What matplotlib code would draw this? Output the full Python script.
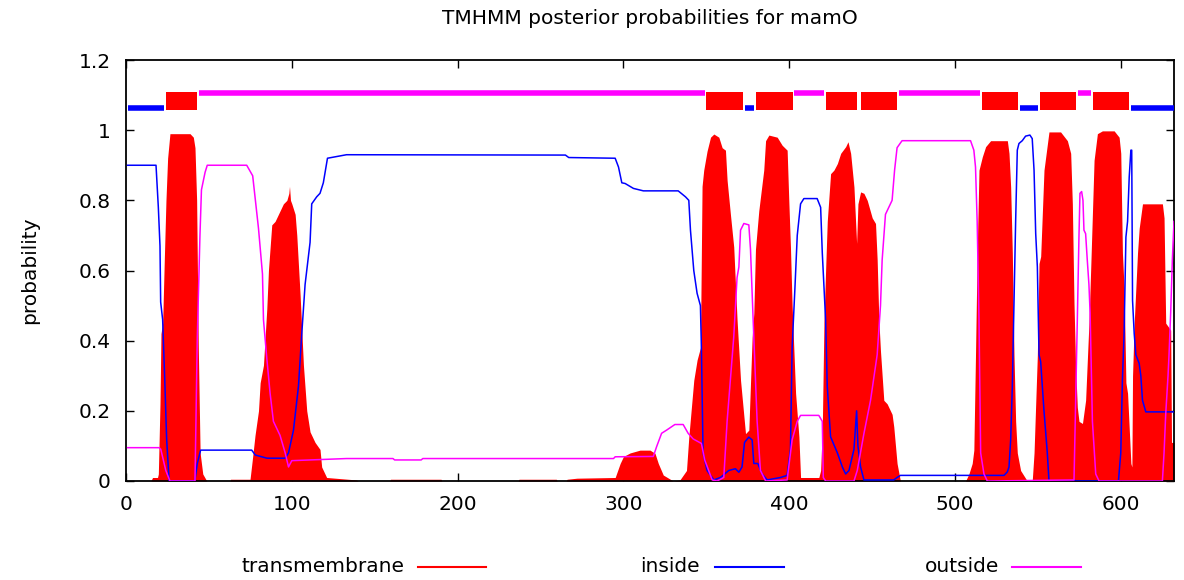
import matplotlib
matplotlib.use("Agg")
import matplotlib.pyplot as plt
from matplotlib.lines import Line2D

# ---- data -----------------------------------------------------------------
seq_length = 632
title = "TMHMM posterior probabilities for mamO"

# posterior probability of transmembrane state (position, probability)
pos_tm = [15, 16, 19, 19.5, 20.5, 21.1, 22.1, 23.1, 24.1, 25.1, 26.5, 38.6, 40.6,
          41.6, 42.6, 43.6, 44.7, 46.3, 48.7,
          62.8, 63, 74.8, 76.4, 77.8, 79.9, 80.9, 82.9, 84.9, 85.9, 87.9, 89.9, 91.9,
          94.9, 97, 98.2, 98.6, 99.2, 100, 102, 103, 105, 107, 109, 111, 114, 117,
          118, 121, 139, 140,
          159, 159.5, 190, 190.5, 236.5, 237, 259.5, 260, 265.5, 266, 272, 295,
          298, 300, 304, 310, 316, 319, 321, 324, 330, 334, 338, 339.4, 342.4,
          344.4, 346.4, 347.4, 348.4, 350.4, 352.5, 354.5, 357.5, 359.5, 361.5,
          362.5, 364.5, 366.5, 368.5, 370.6, 373.6, 375.6, 377.6, 378.6, 379.6,
          381.6, 384.6, 385.7, 387.7, 392.7, 395.7, 398.7, 399.7, 400.7, 401.7,
          403.8, 405.8, 406.8, 417.8, 418.9, 419.9, 420.9, 421.9, 422.9, 424.9,
          426.9, 429, 431, 434, 435.4, 437, 439, 440.6, 441.4, 443, 445, 447, 450,
          452, 453, 454, 455, 457, 459, 462, 463, 465, 467,
          506.3, 508.3, 510.3, 511.3, 512.3, 513.3, 514.4, 516.4, 518.4, 521.4,
          531.5, 532.5, 533.5, 534.5, 535.5, 536.5, 537.5, 539.5, 543.5, 546.5,
          547.6, 548.6, 549.6, 550.6, 551.6, 553.6, 556.6, 563.6, 567.7, 569.7,
          570.7, 571.7, 572.7, 573.7, 574.7, 576.8, 578.7, 580.7, 581.8, 583.8,
          585.8, 588.8, 595.9, 598.9, 599.9, 600.9, 601.9, 603, 604, 605, 606,
          606.6, 607, 608, 609, 610, 611, 613, 625, 626, 627, 630, 630.5, 632]
prob_tm = [0.0, 0.01, 0.01, 0.02, 0.22, 0.42, 0.45, 0.63, 0.80, 0.92, 0.99, 0.99, 0.98,
           0.95, 0.80, 0.38, 0.08, 0.02, 0.0,
           0.0, 0.005, 0.005, 0.07, 0.13, 0.20, 0.28, 0.33, 0.49, 0.60, 0.73, 0.74, 0.76,
           0.79, 0.80, 0.82, 0.84, 0.80, 0.79, 0.76, 0.70, 0.53, 0.33, 0.20, 0.14, 0.11, 0.09,
           0.04, 0.01, 0.003, 0.0,
           0.0, 0.005, 0.005, 0.0, 0.0, 0.005, 0.005, 0.0, 0.0, 0.005, 0.008, 0.01,
           0.05, 0.07, 0.08, 0.088, 0.088, 0.079, 0.05, 0.017, 0.0, 0.003, 0.03, 0.125, 0.287,
           0.345, 0.38, 0.84, 0.886, 0.94, 0.98, 0.989, 0.98, 0.95, 0.943,
           0.857, 0.76, 0.667, 0.46, 0.287, 0.135, 0.145, 0.41, 0.478, 0.66,
           0.77, 0.886, 0.97, 0.986, 0.98, 0.957, 0.943, 0.80, 0.667, 0.50,
           0.25, 0.126, 0.01, 0.01, 0.03, 0.15, 0.45, 0.60, 0.74, 0.876,
           0.886, 0.905, 0.934, 0.953, 0.967, 0.934, 0.838, 0.677, 0.79, 0.824, 0.82, 0.80, 0.75,
           0.734, 0.63, 0.46, 0.37, 0.23, 0.22, 0.19, 0.155, 0.05, 0.0,
           0.0, 0.02, 0.05, 0.088, 0.36, 0.65, 0.886, 0.924, 0.953, 0.97,
           0.97, 0.934, 0.838, 0.65, 0.36, 0.17, 0.08, 0.03, 0.0, 0.0,
           0.08, 0.22, 0.36, 0.62, 0.64, 0.886, 0.995, 0.995, 0.97, 0.934,
           0.79, 0.506, 0.32, 0.21, 0.17, 0.164, 0.23, 0.45, 0.61, 0.914,
           0.99, 0.998, 0.998, 0.98, 0.934, 0.65, 0.55, 0.28, 0.25, 0.15, 0.05,
           0.04, 0.30, 0.45, 0.55, 0.65, 0.72, 0.79, 0.79, 0.75, 0.45, 0.43, 0.11, 0.11]

# posterior probability of the inside state
pos_in = [1, 18.1, 19.5, 20.5, 20.9, 22.1, 23.5, 24.5, 26, 41.5, 43, 45, 75.8, 78, 85,
          96, 98, 101, 104, 106, 108, 111, 112, 115, 117, 119, 121.5, 133, 265, 267,
          295, 297, 299, 301, 306, 312, 333, 337.4, 339.4, 340.4, 342.4, 344.4,
          346.4, 347, 348, 350.4, 354.5, 358.5, 363.5, 367.5, 369.6, 371.5, 373,
          375.6, 377.6, 378.6, 381, 383.6, 386.7, 394.7, 398.7, 400.7, 401.7, 403.4,
          404.8, 406.8, 408.8, 416.8, 418.9, 419.9, 421.9, 422.9, 424.9, 429, 432,
          434, 436, 439, 440.6, 441.4, 443, 445, 463, 465, 467, 529.5, 531.5, 532.5,
          533.5, 534.5, 535.5, 536.5, 537.5, 538.5, 540.5, 542.5, 545.1, 546.5,
          547.6, 548.6, 549.6, 550.6, 551.6, 553.6, 555.6, 556.6, 598.5, 599.9,
          600.9, 601.9, 603, 604, 605, 606, 606.5, 607, 608, 609, 611, 612, 613, 615,
          632]
prob_in = [0.90, 0.90, 0.78, 0.67, 0.51, 0.46, 0.27, 0.12, 0.0, 0.0, 0.05, 0.088, 0.088,
           0.074, 0.065, 0.065, 0.08, 0.145, 0.27, 0.42, 0.56, 0.68, 0.79, 0.81, 0.82,
           0.85, 0.92, 0.93, 0.929, 0.922, 0.92, 0.895, 0.85, 0.848, 0.834, 0.827, 0.827,
           0.81, 0.80, 0.715, 0.60, 0.535, 0.50, 0.38, 0.08, 0.03, 0.003, 0.01, 0.03,
           0.035, 0.025, 0.04, 0.11, 0.125, 0.117, 0.05, 0.05, 0.02, 0.003, 0.01, 0.016,
           0.09, 0.38, 0.55, 0.70, 0.79, 0.805, 0.805, 0.78, 0.65, 0.46, 0.27, 0.126,
           0.08, 0.04, 0.02, 0.03, 0.09, 0.20, 0.10, 0.04, 0.003, 0.003, 0.01, 0.016,
           0.016, 0.026, 0.04, 0.117, 0.27, 0.506, 0.74, 0.943, 0.962, 0.97, 0.983,
           0.986, 0.976, 0.886, 0.705, 0.61, 0.36, 0.34, 0.20, 0.08, 0.0, 0.0, 0.08,
           0.29, 0.42, 0.695, 0.74, 0.867, 0.943, 0.943, 0.515, 0.42, 0.36, 0.335, 0.30,
           0.23, 0.197, 0.197]

# posterior probability of the outside state
pos_out = [1, 20, 21, 22.5, 24, 26.5, 41.6, 43, 44.6, 45.5, 47.7, 49, 72.8, 76.4, 77.8,
           79.9, 82.3, 82.9, 84.9, 86.9, 88.9, 92.9, 96, 98, 100, 133, 161, 162, 178,
           179, 294, 295, 318, 320, 323, 326, 331, 336, 339, 342, 347, 349, 353.5,
           356.5, 360.5, 362.5, 366.5, 368.5, 369.6, 370.6, 372.6, 375.6, 376.6,
           377.6, 378.6, 380.6, 382.6, 385.7, 398.7, 401.7, 404.8, 406.8, 417.8,
           419.9, 420.5, 421.9, 439, 441, 445, 449, 453, 455, 456, 458, 460, 462,
           463.5, 465, 466.5, 468, 509.3, 511.3, 512.3, 513.3, 514.4, 515.4, 517.4,
           519.4, 571.7, 572.7, 573.7, 574.7, 575.3, 576.3, 577.1, 577.7, 578.7,
           579.7, 580.7, 581.4, 582.8, 584.8, 586.8, 625, 626, 627, 628.4, 629, 630,
           631, 632]
prob_out = [0.095, 0.095, 0.09, 0.06, 0.03, 0.0, 0.0, 0.41, 0.70, 0.83, 0.88, 0.90, 0.90,
            0.87, 0.81, 0.72, 0.59, 0.46, 0.35, 0.25, 0.17, 0.13, 0.08, 0.04, 0.058,
            0.064, 0.064, 0.06, 0.06, 0.064, 0.064, 0.069, 0.07, 0.098, 0.136, 0.145,
            0.161, 0.161, 0.136, 0.12, 0.107, 0.06, 0.003, 0.0, 0.01, 0.17, 0.41, 0.58,
            0.61, 0.715, 0.734, 0.73, 0.66, 0.535, 0.41, 0.17, 0.03, 0.0, 0.003, 0.117,
            0.17, 0.187, 0.187, 0.17, 0.01, 0.0, 0.0, 0.03, 0.135, 0.23, 0.36, 0.50,
            0.63, 0.76, 0.78, 0.80, 0.886, 0.95, 0.96, 0.97, 0.97, 0.943, 0.895, 0.74,
            0.46, 0.08, 0.02, 0.0, 0.003, 0.23, 0.46, 0.70, 0.82, 0.825, 0.80, 0.715,
            0.705, 0.63, 0.56, 0.48, 0.17, 0.02, 0.0, 0.0, 0.08, 0.19, 0.30, 0.36,
            0.48, 0.63, 0.74]

# predicted topology (first residue, last residue)
inside_segments = [(1, 23), (373, 379), (539, 550), (606, 632)]
tm_segments = [(24, 43), (350, 372), (380, 402), (422, 441), (443, 465),
               (516, 538), (551, 573), (583, 605)]
outside_segments = [(44, 349), (403, 421), (466, 515), (574, 582)]

x_ticks = [0, 100, 200, 300, 400, 500, 600]
y_ticks = [0, 0.2, 0.4, 0.6, 0.8, 1.0, 1.2]
y_tick_labels = ["0", "0.2", "0.4", "0.6", "0.8", "1", "1.2"]

legend_labels = ["transmembrane", "inside", "outside"]

# ---- style ----------------------------------------------------------------
RED, BLUE, MAGENTA = "#ff0000", "#0000ff", "#ff00ff"
plt.rcParams["font.family"] = ["DejaVu Sans"]
FS = 14.5

W, H = 1184, 580
fig = plt.figure(figsize=(W / 100, H / 100), dpi=100)
ax = fig.add_axes([126 / W, 99 / H, 1048 / W, 421 / H])

# posterior curves
ax.fill_between(pos_tm, prob_tm, 0, color=RED, linewidth=0, zorder=2)
ax.plot(pos_in, prob_in, color=BLUE, lw=1.1, zorder=3)
ax.plot(pos_out, prob_out, color=MAGENTA, lw=1.1, zorder=4)

# topology bar along the top
for s, e in tm_segments:
    ax.fill_between([s, e], 1.058, 1.108, color=RED, linewidth=0, zorder=3)
for s, e in inside_segments:
    ax.plot([s, e], [1.062, 1.062], color=BLUE, lw=4, solid_capstyle="butt", zorder=3)
for s, e in outside_segments:
    ax.plot([s, e], [1.106, 1.106], color=MAGENTA, lw=4, solid_capstyle="butt", zorder=3)

ax.set_xlim(0, seq_length)
ax.set_ylim(0, 1.2)
ax.set_xticks(x_ticks)
ax.set_xticklabels([str(t) for t in x_ticks])
ax.set_yticks(y_ticks)
ax.set_yticklabels(y_tick_labels)
ax.tick_params(direction="in", length=6, width=1, top=True, right=True,
               labelsize=FS, colors="black")
ax.tick_params(axis="x", pad=10)
ax.tick_params(axis="y", pad=11)
for sp in ax.spines.values():
    sp.set_linewidth(1.3)
    sp.set_color("black")

fig.text(650 / W, 1 - 18 / H, title, ha="center", va="center", fontsize=FS)
fig.text(30 / W, 1 - 270 / H, "probability", rotation=90, ha="center", va="center",
         fontsize=FS)

# legend: label followed by a short line sample
legend_colors = [RED, BLUE, MAGENTA]
text_right = [405, 700, 999]
line_span = [(418, 486), (715, 784), (1012, 1081)]
ly = 1 - 567 / H
for lab, col, tr, (l0, l1) in zip(legend_labels, legend_colors, text_right, line_span):
    fig.text(tr / W, ly, lab, ha="right", va="center", fontsize=FS)
    fig.add_artist(Line2D([l0 / W, l1 / W], [ly, ly], color=col, lw=1.5))

fig.savefig("out.png", dpi=100, facecolor="white")
